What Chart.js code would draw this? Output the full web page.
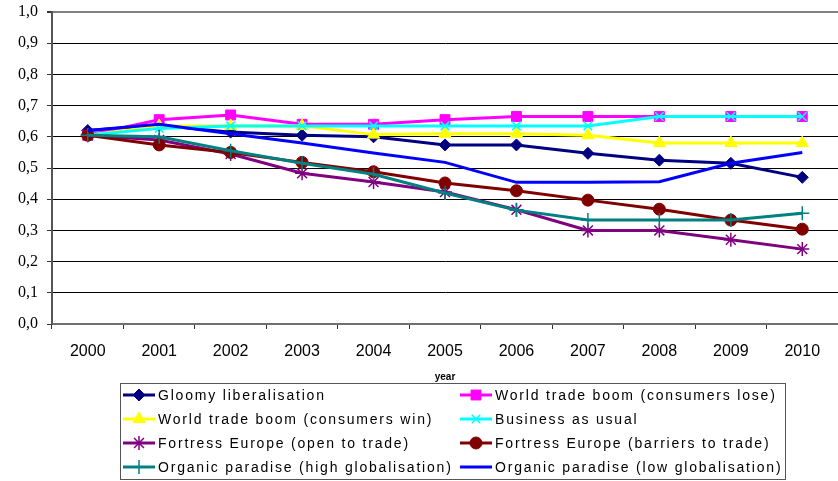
<!DOCTYPE html>
<html>
<head>
<meta charset="utf-8">
<script src="https://cdn.jsdelivr.net/npm/chart.js@4/dist/chart.umd.min.js"></script>
<style>
  body { margin: 0; background: #fff; }
  canvas { display: block; }
</style>
</head>
<body>
<canvas id="scenarios" width="838" height="481"></canvas>
<script>
// years on the x axis
var years = ['2000', '2001', '2002', '2003', '2004', '2005', '2006', '2007', '2008', '2009', '2010'];

// one array per scenario
var gloomy      = [0.62, 0.637, 0.615, 0.605, 0.60, 0.574, 0.574, 0.547, 0.525, 0.515, 0.47];
var wtbLose     = [0.605, 0.655, 0.67, 0.64, 0.64, 0.655, 0.665, 0.665, 0.665, 0.665, 0.665];
var wtbWin      = [0.605, 0.635, 0.635, 0.635, 0.607, 0.61, 0.61, 0.605, 0.58, 0.58, 0.58];
var businessUsual = [0.605, 0.627, 0.635, 0.635, 0.635, 0.635, 0.635, 0.635, 0.665, 0.665, 0.665];
var fortressOpen  = [0.605, 0.59, 0.545, 0.483, 0.455, 0.423, 0.366, 0.30, 0.30, 0.27, 0.24];
var fortressBarriers = [0.605, 0.574, 0.55, 0.518, 0.488, 0.452, 0.427, 0.397, 0.368, 0.333, 0.304];
var organicHigh = [0.605, 0.60, 0.555, 0.515, 0.48, 0.42, 0.365, 0.333, 0.333, 0.333, 0.355];
var organicLow  = [0.62, 0.64, 0.61, 0.58, 0.548, 0.518, 0.454, 0.454, 0.456, 0.515, 0.55];

var yTicks = [0, 0.1, 0.2, 0.3, 0.4, 0.5, 0.6, 0.7, 0.8, 0.9, 1.0];

function serie(label, data, color, style, radius, bw) {
    return {
        label: label,
        data: data,
        borderColor: color,
        backgroundColor: color,
        pointBackgroundColor: color,
        pointBorderColor: color,
        borderWidth: 3,
        pointStyle: style,
        pointRadius: radius,
        pointHoverRadius: radius,
        pointBorderWidth: bw,
        tension: 0
    };
}

var datasets = [
    serie('Gloomy liberalisation', gloomy, '#000080', 'rectRot', 6, 1),
    serie('World trade boom (consumers lose)', wtbLose, '#FF00FF', 'rect', 7, 1),
    serie('World trade boom (consumers win)', wtbWin, '#FFFF00', 'triangle', 7, 1),
    serie('Business as usual', businessUsual, '#00FFFF', 'crossRot', 6, 1.5),
    serie('Fortress Europe (open to trade)', fortressOpen, '#800080', 'star', 7, 1.5),
    serie('Fortress Europe (barriers to trade)', fortressBarriers, '#800000', 'circle', 6, 1),
    serie('Organic paradise (high globalisation)', organicHigh, '#008080', 'cross', 7, 1.5),
    serie('Organic paradise (low globalisation)', organicLow, '#0000FF', false, 0, 1)
];
// Excel draws later series on top
datasets.forEach(function (d, i) { d.order = datasets.length - i; });

// leyenda en caja, dos columnas
var boxLegend = {
    id: 'boxLegend',
    afterDraw: function (chart) {
        var ctx = chart.ctx;
        ctx.save();
        ctx.strokeStyle = '#555';
        ctx.lineWidth = 1;
        ctx.strokeRect(120.5, 383.5, 665, 96);
        chart.data.datasets.forEach(function (d, i) {
            var col = i % 2, row = Math.floor(i / 2);
            var x0 = col ? 460 : 123;
            var y = 395 + row * 24;
            ctx.strokeStyle = d.borderColor;
            ctx.lineWidth = 3;
            ctx.beginPath();
            ctx.moveTo(x0, y);
            ctx.lineTo(x0 + 32, y);
            ctx.stroke();
            if (d.pointStyle) {
                ctx.fillStyle = d.pointBackgroundColor;
                ctx.strokeStyle = d.pointBorderColor;
                ctx.lineWidth = d.pointBorderWidth;
                Chart.helpers.drawPoint(ctx, {
                    pointStyle: d.pointStyle,
                    radius: d.pointRadius,
                    rotation: 0,
                    borderWidth: d.pointBorderWidth
                }, x0 + 16, y);
            }
            ctx.fillStyle = '#000';
            ctx.font = '14px "Liberation Sans", Arial, sans-serif';
            ctx.letterSpacing = '1.8px';
            ctx.textBaseline = 'middle';
            ctx.textAlign = 'left';
            ctx.fillText(d.label, x0 + 35, y + 1);
        });
        ctx.restore();
    }
};

var ctx = document.getElementById('scenarios').getContext('2d');
var myChart = new Chart(ctx, {
    type: 'line',
    data: {
        labels: years,
        datasets: datasets
    },
    options: {
        responsive: false,
        animation: false,
        layout: {
            autoPadding: false,
            padding: { top: 12, right: 0, bottom: 97, left: 0 }
        },
        plugins: {
            legend: { display: false },
            tooltip: { enabled: false }
        },
        scales: {
            x: {
                offset: true,
                grid: {
                    offset: true,
                    drawOnChartArea: false,
                    drawTicks: true,
                    tickLength: 5,
                    tickColor: '#333',
                    lineWidth: 1
                },
                border: { display: true, color: '#707070', width: 2 },
                ticks: {
                    color: '#000',
                    padding: 13,
                    maxRotation: 0,
                    font: { family: '"Liberation Sans", Arial, sans-serif', size: 16 }
                },
                title: {
                    display: true,
                    text: 'year',
                    color: '#000',
                    padding: { top: 0, bottom: 1 },
                    font: { family: '"Liberation Sans", Arial, sans-serif', size: 10, weight: 'bold' }
                },
                afterFit: function (scale) {
                    scale.height = 60;
                    scale.paddingLeft = 0;
                    scale.paddingRight = 0;
                }
            },
            y: {
                min: 0,
                max: 1,
                afterBuildTicks: function (scale) {
                    scale.ticks = yTicks.map(function (v) { return { value: v }; });
                },
                grid: {
                    color: function (c) { return c.tick && c.tick.value === 1 ? '#808080' : '#000'; },
                    lineWidth: function (c) { return c.tick && c.tick.value === 1 ? 2 : 1; },
                    tickLength: 5,
                    tickColor: '#333'
                },
                border: { display: true, color: '#555', width: 2 },
                ticks: {
                    color: '#000',
                    padding: 9,
                    font: { family: '"Liberation Serif", "Times New Roman", serif', size: 16 },
                    callback: function (v) { return v.toFixed(1).replace('.', ','); }
                },
                afterFit: function (scale) {
                    scale.width = 52;
                    scale.paddingTop = 0;
                    scale.paddingBottom = 0;
                }
            }
        }
    },
    plugins: [boxLegend]
});
</script>
</body>
</html>
